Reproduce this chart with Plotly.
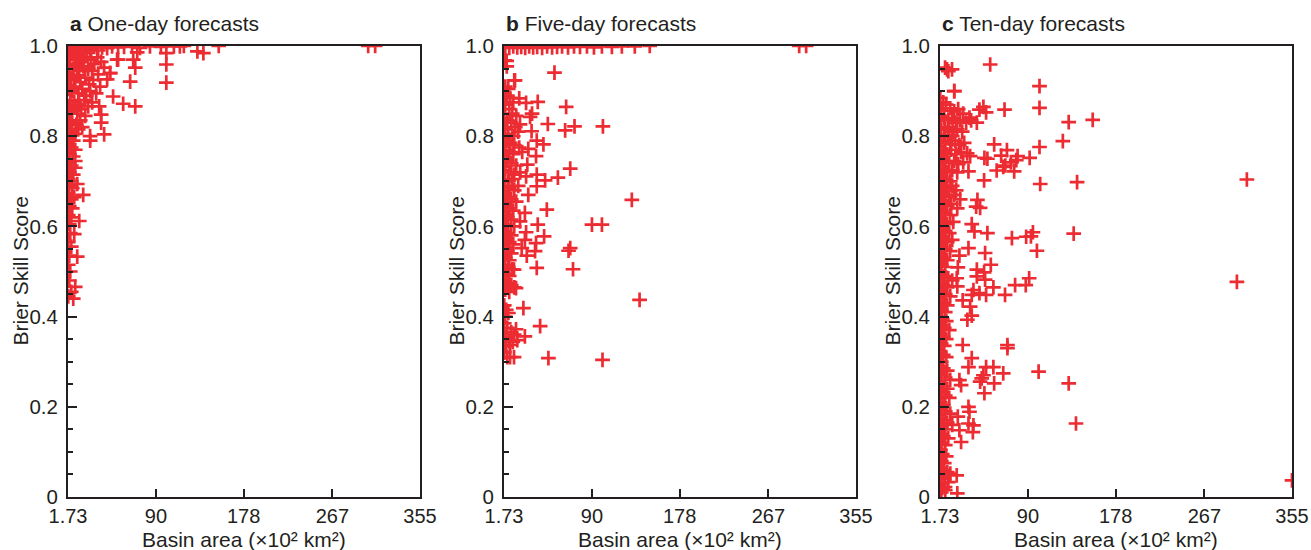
import plotly.graph_objects as go

# Basin area (x10^2 km^2) vs Brier Skill Score, one entry per basin
one_day = [
    # row at the upper bound
    (2.5, 0.995), (5, 0.99), (8, 0.997), (11, 0.992), (14, 0.998), (17, 0.99), (20, 0.996),
    (24, 0.993), (28, 0.998), (32, 0.99), (36, 0.997), (41, 0.995), (46, 0.999), (52, 0.997),
    (58, 0.998), (66, 0.999), (74, 0.996), (84, 0.999), (95, 0.998), (108, 0.999), (118, 1.0),
    (153, 1.0), (303, 1.0), (310, 1.0),
    # dense cloud
    (2, 0.98), (4, 0.975), (6, 0.985), (9, 0.97), (12, 0.98), (15, 0.965), (18, 0.975),
    (21, 0.985), (25, 0.97), (28, 0.96), (31, 0.975), (35, 0.965), (3, 0.955), (7, 0.95),
    (10, 0.96), (13, 0.945), (17, 0.955), (22, 0.95), (26, 0.945), (38, 0.952), (44, 0.94),
    (2, 0.935), (5, 0.93), (8, 0.925), (11, 0.935), (14, 0.92), (19, 0.93), (23, 0.915),
    (27, 0.925), (3, 0.905), (6, 0.9), (9, 0.91), (12, 0.895), (16, 0.905), (20, 0.89),
    (24, 0.9), (30, 0.895), (4, 0.88), (8, 0.875), (13, 0.87), (18, 0.88), (26, 0.875),
    (2, 0.86), (5, 0.855), (8, 0.865), (11, 0.85), (15, 0.86), (19, 0.845), (3, 0.835),
    (6, 0.83), (10, 0.825), (14, 0.835), (2, 0.815), (5, 0.81), (9, 0.805), (12, 0.815),
    (16, 0.82), (3, 0.795), (7, 0.79),
    (2, 0.78), (5, 0.775), (9, 0.77), (3, 0.76), (7, 0.755), (2, 0.74), (5, 0.735), (9, 0.745),
    (3, 0.72), (7, 0.715), (2, 0.705), (5, 0.7),
    (3, 0.69), (6, 0.685), (2, 0.67), (5, 0.66), (8, 0.665), (3, 0.645), (6, 0.64), (2, 0.625),
    (5, 0.62), (3, 0.605),
    (4, 0.585), (2, 0.565), (5, 0.555), (3, 0.535), (2, 0.515), (4, 0.5), (3, 0.48), (5, 0.455),
    (2, 0.445),
    # scattered basins
    (100.4, 0.984), (100.4, 0.959), (100.4, 0.919), (137.6, 0.984), (131.6, 0.988), (114, 0.999),
    (64.1, 0.921), (69.2, 0.952), (69.2, 0.866), (57.1, 0.872), (51, 0.97), (67.2, 0.97),
    (71.2, 0.986), (38, 0.804), (23.9, 0.8), (35, 0.83), (35, 0.848), (47, 0.888), (41, 0.926),
    (44, 0.94), (32, 0.937), (34, 0.91), (33, 0.866), (22, 0.866), (52, 0.97), (24, 0.79),
    (17, 0.67), (13, 0.612), (8, 0.583), (11, 0.533), (9, 0.466), (7, 0.44), (11, 0.694),
    (9, 0.73),
]

five_day = [
    # row at the upper bound
    (3, 0.998), (7, 0.996), (11, 0.999), (15, 0.997), (19, 0.998), (23, 0.996), (27, 0.999),
    (31, 0.997), (35, 0.998), (40, 0.996), (45, 0.999), (50, 0.997), (55, 0.998), (60, 0.999),
    (66, 0.997), (72, 0.999), (78, 0.998), (85, 0.999), (92, 0.997), (100, 0.999), (110, 0.998),
    (120, 0.999), (133, 0.999), (148, 1.0), (298, 1.0), (305, 1.0),
    # dense cloud
    (2.5, 0.968), (4.5, 0.955), (3, 0.91), (6, 0.905), (12, 0.924),
    (2, 0.895), (5, 0.89), (8, 0.885), (11, 0.875), (3, 0.87), (7, 0.86), (10, 0.85), (14, 0.845),
    (2, 0.84), (5, 0.835), (9, 0.83), (13, 0.82), (3, 0.815), (6, 0.805), (11, 0.8), (16, 0.81),
    (2, 0.795), (5, 0.79), (8, 0.785), (12, 0.78), (17, 0.775), (3, 0.77), (7, 0.765), (11, 0.76),
    (20, 0.765), (2, 0.75), (5, 0.745), (9, 0.74), (14, 0.735), (3, 0.725), (7, 0.72), (12, 0.715),
    (18, 0.72), (2, 0.705), (6, 0.7), (10, 0.705),
    (3, 0.69), (7, 0.685), (12, 0.68), (16, 0.69), (2, 0.67), (5, 0.665), (9, 0.66), (14, 0.655),
    (3, 0.645), (7, 0.64), (11, 0.635), (2, 0.625), (5, 0.62), (9, 0.615), (3, 0.605), (6, 0.6),
    (12, 0.6),
    (2, 0.59), (5, 0.585), (9, 0.58), (3, 0.57), (7, 0.565), (11, 0.56), (2, 0.55), (5, 0.545),
    (9, 0.54), (3, 0.53), (7, 0.525), (2, 0.515), (6, 0.51), (10, 0.505),
    (3, 0.495), (7, 0.49), (2, 0.48), (5, 0.475), (9, 0.47), (12, 0.465), (3, 0.46), (7, 0.455),
    (2, 0.425), (4, 0.415), (3, 0.4),
    (2, 0.385), (5, 0.375), (9, 0.365), (3, 0.355), (7, 0.345), (12, 0.36), (4, 0.335), (2, 0.32),
    (5, 0.31),
    # scattered basins
    (52.4, 0.941), (64.1, 0.865), (63.1, 0.813), (72.5, 0.822), (101, 0.822), (130, 0.659),
    (90, 0.604), (100, 0.604), (68.2, 0.552), (66.5, 0.546), (71, 0.505), (137.8, 0.437),
    (100.6, 0.304), (46.3, 0.308), (38, 0.379), (21.2, 0.419), (68.2, 0.728), (55.8, 0.708),
    (44.7, 0.637), (42, 0.578), (35.6, 0.604), (34.6, 0.508), (32.9, 0.545), (33.9, 0.563),
    (45.7, 0.827), (35.6, 0.876), (23.9, 0.874), (17, 0.884), (12.8, 0.924), (4.4, 0.967),
    (29.4, 0.811), (34.6, 0.79), (41.3, 0.782), (33.9, 0.756), (26.1, 0.772), (27.9, 0.843),
    (29.9, 0.85), (17.8, 0.826), (25.1, 0.737), (23.9, 0.711), (34.6, 0.715), (43, 0.702),
    (34.6, 0.689), (26.1, 0.67), (22.7, 0.63), (17.8, 0.611), (23.9, 0.587), (22.7, 0.57),
    (19.5, 0.552), (24.6, 0.535), (13.8, 0.463), (11.8, 0.504), (10.5, 0.344), (13.8, 0.372),
    (7.8, 0.31), (11.8, 0.31), (22.7, 0.356), (15.1, 0.348), (7.8, 0.337), (6.1, 0.408),
]

ten_day = [
    # dense cloud
    (8.8, 0.948), (13.8, 0.948), (16, 0.9),
    (2, 0.885), (5, 0.875), (8, 0.87), (12, 0.862), (3, 0.858), (16, 0.855), (20, 0.86), (25, 0.85),
    (2, 0.845), (6, 0.84), (10, 0.835), (14, 0.84), (18, 0.83), (22, 0.835), (28, 0.83), (33, 0.835),
    (3, 0.82), (7, 0.815), (11, 0.82), (15, 0.81), (19, 0.815), (24, 0.81), (2, 0.8), (6, 0.802),
    (10, 0.798), (14, 0.8),
    (3, 0.79), (7, 0.785), (12, 0.782), (17, 0.79), (21, 0.78), (26, 0.785), (2, 0.77), (5, 0.765),
    (9, 0.76), (13, 0.77), (18, 0.76), (23, 0.765), (29, 0.762), (3, 0.75), (7, 0.745), (11, 0.74),
    (16, 0.745), (20, 0.738), (25, 0.742), (2, 0.73), (5, 0.725), (9, 0.72), (14, 0.725), (19, 0.72),
    (3, 0.71), (7, 0.705), (12, 0.7),
    (2, 0.695), (5, 0.69), (9, 0.685), (14, 0.69), (18, 0.68), (3, 0.675), (7, 0.67), (11, 0.665),
    (16, 0.67), (22, 0.66), (2, 0.655), (5, 0.65), (9, 0.645), (13, 0.65), (19, 0.64), (3, 0.635),
    (7, 0.63), (12, 0.625), (2, 0.615), (5, 0.61), (9, 0.605), (15, 0.61),
    (3, 0.595), (7, 0.59), (11, 0.585), (2, 0.575), (5, 0.57), (9, 0.565), (14, 0.57), (3, 0.555),
    (7, 0.55), (12, 0.545), (2, 0.535), (5, 0.53), (9, 0.525), (3, 0.515), (7, 0.51), (2, 0.5),
    (3, 0.495), (6, 0.49), (10, 0.485), (14, 0.48), (2, 0.475), (5, 0.47), (9, 0.465), (3, 0.455),
    (7, 0.45), (12, 0.445), (2, 0.435), (5, 0.43), (9, 0.425), (3, 0.415), (7, 0.41), (2, 0.4),
    (4, 0.395), (8, 0.39), (3, 0.38), (6, 0.375), (11, 0.37), (2, 0.36), (5, 0.355), (8, 0.35),
    (3, 0.34), (6, 0.335), (2, 0.32), (5, 0.315), (8, 0.31), (3, 0.3),
    (2, 0.29), (5, 0.285), (9, 0.28), (3, 0.27), (7, 0.265), (12, 0.26), (2, 0.25), (5, 0.245),
    (9, 0.24), (3, 0.23), (7, 0.225), (11, 0.22), (2, 0.21), (5, 0.205),
    (3, 0.195), (7, 0.19), (12, 0.185), (2, 0.175), (5, 0.17), (9, 0.165), (14, 0.16), (3, 0.155),
    (7, 0.15), (2, 0.14), (5, 0.135), (10, 0.13), (3, 0.12), (7, 0.115), (2, 0.105),
    (4, 0.095), (8, 0.09), (3, 0.08), (6, 0.075), (2, 0.065), (5, 0.06), (9, 0.055), (3, 0.045),
    (6, 0.04), (2, 0.03), (4, 0.02), (7, 0.015), (3, 0.01),
    # scattered basins
    (52.1, 0.959), (101.6, 0.911), (101.6, 0.863), (130.9, 0.831), (155, 0.836), (125, 0.789),
    (101.6, 0.776), (139.3, 0.698), (102.3, 0.694), (135.9, 0.584), (99, 0.546), (95, 0.587),
    (93, 0.578), (88.2, 0.577), (73.9, 0.574), (91.2, 0.485), (87.8, 0.47), (77.1, 0.47),
    (67, 0.448), (69.4, 0.337), (69.4, 0.33), (65.2, 0.274), (100.7, 0.278), (130.9, 0.252),
    (138.2, 0.163), (66.5, 0.859), (56.1, 0.782), (63.1, 0.757), (68.9, 0.769), (79.6, 0.756),
    (78.3, 0.747), (91.7, 0.752), (72.9, 0.742), (67.3, 0.735), (65.2, 0.732), (58.6, 0.724),
    (76.2, 0.722), (46, 0.702), (46.3, 0.752), (49.3, 0.75), (41.3, 0.859), (48, 0.853),
    (45.3, 0.865), (38.7, 0.83), (31.3, 0.841), (16.1, 0.9), (10.1, 0.944), (6.8, 0.952),
    (32, 0.756), (30.3, 0.722), (42, 0.641), (38, 0.644), (39.3, 0.659), (33.6, 0.605),
    (36.3, 0.589), (49.3, 0.585), (30.3, 0.552), (47, 0.541), (21.2, 0.535), (19.6, 0.509),
    (52.7, 0.515), (38.7, 0.504), (46, 0.498), (38.7, 0.489), (47, 0.482), (55.3, 0.465),
    (35.3, 0.459), (41.3, 0.452), (48, 0.448), (33.6, 0.448), (18.5, 0.485), (19.1, 0.467),
    (24.5, 0.436), (32, 0.422), (33.6, 0.402), (29.2, 0.393), (24.5, 0.337), (33.6, 0.308),
    (30.3, 0.288), (48, 0.288), (55.3, 0.288), (43.6, 0.263), (45.3, 0.27), (42, 0.256),
    (56.1, 0.252), (46.3, 0.23), (21.2, 0.259), (22.9, 0.248), (30.3, 0.2), (31.3, 0.189),
    (30.3, 0.163), (35.3, 0.159), (34.7, 0.144), (21.2, 0.148), (19.6, 0.178), (22.9, 0.122),
    (18.5, 0.048), (19.1, 0.008), (10.1, 0.033), (6.8, 0.022), (12.1, 0.052),
    (309.7, 0.704), (299.7, 0.477), (355, 0.037),
]

panel_letters = ["a", "b", "c"]
panel_titles = ["One-day forecasts", "Five-day forecasts", "Ten-day forecasts"]
x_tickvals = [1.73, 90, 178, 267, 355]
x_ticktext = ["1.73", "90", "178", "267", "355"]
y_tickvals = [0, 0.2, 0.4, 0.6, 0.8, 1.0]
y_ticktext = ["0", "0.2", "0.4", "0.6", "0.8", "1.0"]
x_title = "Basin area (×10² km²)"
y_title = "Brier Skill Score"

W, H = 1311, 550
FONT = "Liberation Sans, Arial, Helvetica, sans-serif"
INK = "#231f20"
RED = "rgb(236,44,50)"

# pixel frames of the three panels
lefts = [68, 504, 940]
width_px = 352
top_px, bottom_px = 46, 497

fig = go.Figure()
series = [one_day, five_day, ten_day]

for i, pts in enumerate(series):
    xs, ys = zip(*pts)
    ax = "" if i == 0 else str(i + 1)
    fig.add_trace(go.Scatter(
        x=list(xs), y=list(ys), mode="markers",
        xaxis="x" + ax, yaxis="y" + ax,
        marker=dict(symbol="cross-thin", size=10.5, color=RED,
                    line=dict(color=RED, width=2.7)),
        cliponaxis=True, showlegend=False, hoverinfo="x+y",
    ))

    dom_x = [lefts[i] / W, (lefts[i] + width_px) / W]
    dom_y = [(H - bottom_px) / H, (H - top_px) / H]
    xaxis = dict(
        domain=dom_x, range=[1.73, 355], anchor="y" + ax, automargin=False,
        tickmode="array", tickvals=x_tickvals, ticktext=x_ticktext,
        ticks="inside", ticklen=8, tickwidth=2, tickcolor=INK,
        showline=True, linewidth=2, linecolor=INK, mirror=True,
        showgrid=False, zeroline=False,
        tickfont=dict(family=FONT, size=20, color=INK),
        ticklabelstandoff=0,
    )
    yaxis = dict(
        domain=dom_y, range=[0, 1.0], anchor="x" + ax, automargin=False,
        tickmode="array", tickvals=y_tickvals, ticktext=y_ticktext,
        ticks="inside", ticklen=9, tickwidth=2, tickcolor=INK,
        minor=dict(tickmode="linear", tick0=0, dtick=0.05, ticks="inside",
                   ticklen=5, tickwidth=2, tickcolor=INK, showgrid=False),
        showline=True, linewidth=2, linecolor=INK, mirror=True,
        showgrid=False, zeroline=False,
        tickfont=dict(family=FONT, size=20.5, color=INK),
        ticklabelstandoff=4,
    )
    fig.update_layout(**{"xaxis" + ax: xaxis, "yaxis" + ax: yaxis})

    # panel heading
    fig.add_annotation(
        xref="x" + ax + " domain", yref="y" + ax + " domain", x=0, y=1,
        xanchor="left", yanchor="bottom", yshift=9, showarrow=False,
        text="<b>" + panel_letters[i] + "</b> " + panel_titles[i],
        font=dict(family=FONT, size=21, color=INK),
    )
    # axis titles
    fig.add_annotation(
        xref="x" + ax + " domain", yref="paper", x=0.5, y=(H - 539) / H,
        xanchor="center", yanchor="middle", showarrow=False,
        text=x_title, font=dict(family=FONT, size=21, color=INK),
    )
    fig.add_annotation(
        xref="paper", yref="y" + ax + " domain", x=(lefts[i] - 48) / W, y=0.5,
        xanchor="center", yanchor="middle", textangle=-90, showarrow=False,
        text=y_title, font=dict(family=FONT, size=21, color=INK),
    )

fig.update_layout(
    width=W, height=H,
    margin=dict(l=0, r=0, t=0, b=0),
    paper_bgcolor="white", plot_bgcolor="white",
    font=dict(family=FONT, color=INK),
)

fig.write_html("out.html")
